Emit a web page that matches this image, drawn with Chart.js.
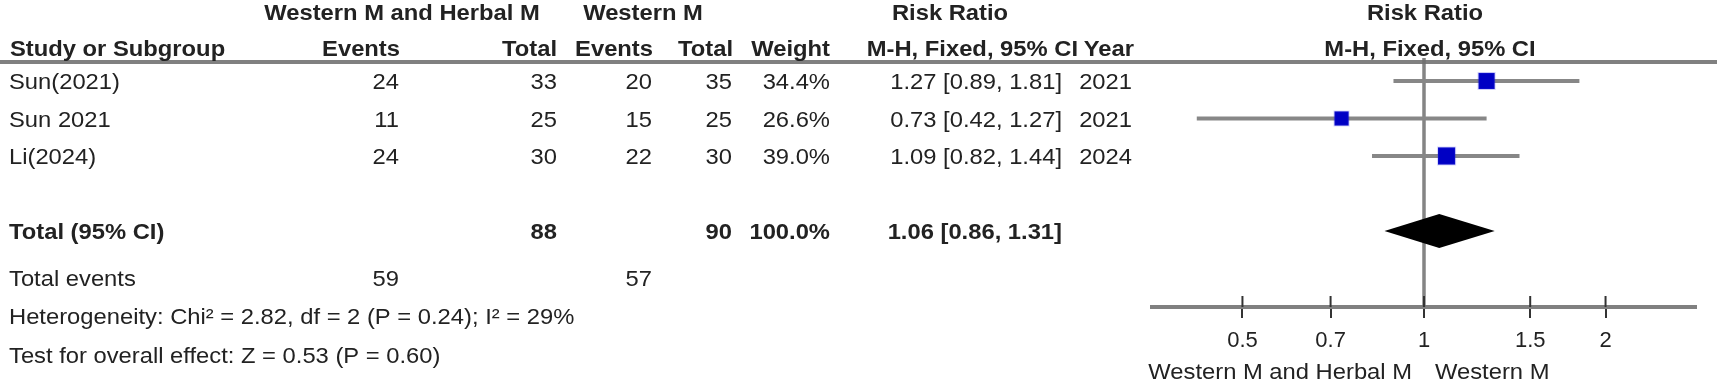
<!DOCTYPE html>
<html>
<head>
<meta charset="utf-8">
<script src="https://cdn.jsdelivr.net/npm/chart.js@4/dist/chart.umd.min.js"></script>
<style>
html, body { margin: 0; padding: 0; background: #fff; }
#wrap { width: 1717px; height: 383px; position: relative; }
</style>
</head>
<body>
<div id="wrap"><canvas id="forest"></canvas></div>
<script>
// study data
const studies = ['Sun(2021)', 'Sun 2021', 'Li(2024)'];
const expEvents = [24, 11, 24];
const expTotal = [33, 25, 30];
const ctlEvents = [20, 15, 22];
const ctlTotal = [35, 25, 30];
const weights = [34.4, 26.6, 39.0];
const rr = [1.27, 0.73, 1.09];
const lower = [0.89, 0.42, 0.82];
const upper = [1.81, 1.27, 1.44];
const years = [2021, 2021, 2024];

// pooled result
const totalRR = 1.06;
const totalLower = 0.86;
const totalUpper = 1.31;
const totalWeight = '100.0%';
const heterogeneity = 'Heterogeneity: Chi² = 2.82, df = 2 (P = 0.24); I² = 29%';
const overallEffect = 'Test for overall effect: Z = 0.53 (P = 0.60)';

const tickValues = [0.5, 0.7, 1, 1.5, 2];
const expLabel = 'Western M and Herbal M';
const ctlLabel = 'Western M';

const sum = a => a.reduce((s, v) => s + v, 0);
const TOTAL_ROW = studies.length + 1;

const FONT = '"Liberation Sans", Arial, sans-serif';
const SX = 1.08; // reference text is a bit wide
function txt(ctx, s, x, y, align, bold) {
    ctx.save();
    ctx.font = (bold ? 'bold ' : '') + '22px ' + FONT;
    ctx.fillStyle = '#222';
    ctx.textAlign = align;
    ctx.textBaseline = 'middle';
    ctx.translate(x, y);
    ctx.scale(SX, 1);
    ctx.fillText(s, 0, 0);
    ctx.restore();
}

const fmtCI = (m, l, u) => m.toFixed(2) + ' [' + l.toFixed(2) + ', ' + u.toFixed(2) + ']';

const forestPlugin = {
    id: 'forest',
    beforeDatasetsDraw(chart) {
        const ctx = chart.ctx, xs = chart.scales.x, ys = chart.scales.y, area = chart.chartArea;
        ctx.save();
        // header rule
        ctx.strokeStyle = '#808080';
        ctx.lineWidth = 4;
        ctx.beginPath();
        ctx.moveTo(0, 62);
        ctx.lineTo(1717, 62);
        ctx.stroke();
        // line of no effect
        const x1 = xs.getPixelForValue(1);
        ctx.strokeStyle = 'rgba(110,110,110,0.85)';
        ctx.lineWidth = 3.5;
        ctx.beginPath();
        ctx.moveTo(x1, area.top);
        ctx.lineTo(x1, area.bottom);
        ctx.stroke();
        // upper half of tick marks
        ctx.strokeStyle = '#333';
        ctx.lineWidth = 2;
        tickValues.forEach(v => {
            const px = xs.getPixelForValue(v);
            ctx.beginPath();
            ctx.moveTo(px, area.bottom - 11);
            ctx.lineTo(px, area.bottom);
            ctx.stroke();
        });
        // pooled diamond
        const yc = ys.getPixelForValue(TOTAL_ROW);
        const h = 17;
        ctx.fillStyle = '#000';
        ctx.beginPath();
        ctx.moveTo(xs.getPixelForValue(totalLower), yc);
        ctx.lineTo(xs.getPixelForValue(totalRR), yc - h);
        ctx.lineTo(xs.getPixelForValue(totalUpper), yc);
        ctx.lineTo(xs.getPixelForValue(totalRR), yc + h);
        ctx.closePath();
        ctx.fill();
        ctx.restore();
    },
    afterDraw(chart) {
        const ctx = chart.ctx, xs = chart.scales.x, ys = chart.scales.y;
        const off = 2;
        // group headers
        txt(ctx, expLabel, 402, 14, 'center', true);
        txt(ctx, ctlLabel, 643, 14, 'center', true);
        txt(ctx, 'Risk Ratio', 950, 14, 'center', true);
        const x1 = xs.getPixelForValue(1);
        txt(ctx, 'Risk Ratio', x1 + 1, 14, 'center', true);
        // column headers
        const hy = 50;
        txt(ctx, 'Study or Subgroup', 10, hy, 'left', true);
        txt(ctx, 'Events', 400, hy, 'right', true);
        txt(ctx, 'Total', 557, hy, 'right', true);
        txt(ctx, 'Events', 653, hy, 'right', true);
        txt(ctx, 'Total', 733, hy, 'right', true);
        txt(ctx, 'Weight', 830, hy, 'right', true);
        txt(ctx, 'M-H, Fixed, 95% CI', 1078, hy, 'right', true);
        txt(ctx, 'Year', 1134, hy, 'right', true);
        txt(ctx, 'M-H, Fixed, 95% CI', x1 + 6, hy, 'center', true);
        // study rows
        studies.forEach((s, i) => {
            const y = ys.getPixelForValue(i) + off;
            txt(ctx, s, 9, y, 'left');
            txt(ctx, String(expEvents[i]), 399, y, 'right');
            txt(ctx, String(expTotal[i]), 557, y, 'right');
            txt(ctx, String(ctlEvents[i]), 652, y, 'right');
            txt(ctx, String(ctlTotal[i]), 732, y, 'right');
            txt(ctx, weights[i].toFixed(1) + '%', 830, y, 'right');
            txt(ctx, fmtCI(rr[i], lower[i], upper[i]), 1062, y, 'right');
            txt(ctx, String(years[i]), 1132, y, 'right');
        });
        // total row
        const ty = ys.getPixelForValue(TOTAL_ROW) + off;
        txt(ctx, 'Total (95% CI)', 9, ty, 'left', true);
        txt(ctx, String(sum(expTotal)), 557, ty, 'right', true);
        txt(ctx, String(sum(ctlTotal)), 732, ty, 'right', true);
        txt(ctx, totalWeight, 830, ty, 'right', true);
        txt(ctx, fmtCI(totalRR, totalLower, totalUpper), 1062, ty, 'right', true);
        // footer
        txt(ctx, 'Total events', 9, 280, 'left');
        txt(ctx, String(sum(expEvents)), 399, 280, 'right');
        txt(ctx, String(sum(ctlEvents)), 652, 280, 'right');
        txt(ctx, heterogeneity, 9, 318, 'left');
        txt(ctx, overallEffect, 9, 357, 'left');
        // favours labels
        txt(ctx, expLabel, x1 - 12, 373, 'right');
        txt(ctx, ctlLabel, x1 + 11, 373, 'left');
    }
};

const ciSets = studies.map((s, i) => ({
    label: s,
    data: [{ x: lower[i], y: i }, { x: upper[i], y: i }],
    showLine: true,
    borderColor: '#878787',
    borderWidth: 4,
    pointRadius: 0,
    order: 2
}));

const squareSet = {
    label: 'RR',
    data: rr.map((v, i) => ({ x: v, y: i })),
    pointStyle: 'rect',
    pointRadius: weights.map(w => 2.75 * Math.sqrt(w) / Math.SQRT2),
    backgroundColor: '#0000c4',
    borderColor: 'rgba(60,60,230,0.2)',
    borderWidth: 2,
    order: 1
};

new Chart(document.getElementById('forest'), {
    type: 'scatter',
    data: { datasets: [...ciSets, squareSet] },
    options: {
        responsive: true,
        maintainAspectRatio: false,
        animation: false,
        layout: { padding: { left: 1152, right: 21, top: 58, bottom: 0 } },
        plugins: { legend: { display: false }, tooltip: { enabled: false } },
        scales: {
            x: {
                type: 'logarithmic',
                min: 0.354,
                max: 2.825,
                afterBuildTicks: s => { s.ticks = tickValues.map(v => ({ value: v })); },
                afterFit: s => { s.height = 76; },
                ticks: {
                    autoSkip: false,
                    maxRotation: 0,
                    padding: 10,
                    color: '#222',
                    font: { family: FONT, size: 22 },
                    callback: v => String(v)
                },
                grid: { drawOnChartArea: false, drawTicks: true, tickLength: 11, color: '#333', lineWidth: 2 },
                border: { color: '#808080', width: 4 }
            },
            y: { display: false, reverse: true, min: -0.613, max: 6.027 }
        }
    },
    plugins: [forestPlugin]
});
</script>
</body>
</html>
